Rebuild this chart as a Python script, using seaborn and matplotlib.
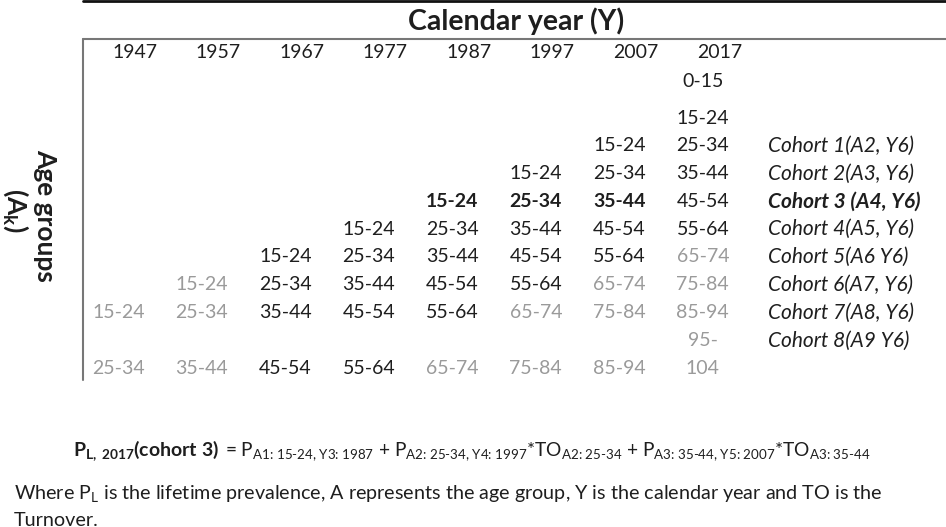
"""
Cohort / calendar-year table of age groups, drawn on a blank seaborn heatmap grid
"""

import matplotlib.pyplot as plt
from matplotlib.colors import ListedColormap
from matplotlib.lines import Line2D
import numpy as np
import seaborn as sns

years = [1947, 1957, 1967, 1977, 1987, 1997, 2007, 2017]

# age group shown in each cell (rows top to bottom, one column per calendar year)
cells = [
    ['', '', '', '', '', '', '', '0-15'],
    ['', '', '', '', '', '', '', '15-24'],
    ['', '', '', '', '', '', '15-24', '25-34'],
    ['', '', '', '', '', '15-24', '25-34', '35-44'],
    ['', '', '', '', '15-24', '25-34', '35-44', '45-54'],
    ['', '', '', '15-24', '25-34', '35-44', '45-54', '55-64'],
    ['', '', '15-24', '25-34', '35-44', '45-54', '55-64', '65-74'],
    ['', '15-24', '25-34', '35-44', '45-54', '55-64', '65-74', '75-84'],
    ['15-24', '25-34', '35-44', '45-54', '55-64', '65-74', '75-84', '85-94'],
    ['', '', '', '', '', '', '', '95-'],
    ['25-34', '35-44', '45-54', '55-64', '65-74', '75-84', '85-94', '104'],
]

# k = normal, b = bold (cohort 3), g = grey
tones = [
    ['', '', '', '', '', '', '', 'k'],
    ['', '', '', '', '', '', '', 'k'],
    ['', '', '', '', '', '', 'k', 'k'],
    ['', '', '', '', '', 'k', 'k', 'k'],
    ['', '', '', '', 'b', 'b', 'b', 'k'],
    ['', '', '', 'k', 'k', 'k', 'k', 'k'],
    ['', '', 'k', 'k', 'k', 'k', 'k', 'g'],
    ['', 'g', 'k', 'k', 'k', 'k', 'g', 'g'],
    ['g', 'g', 'k', 'k', 'k', 'g', 'g', 'g'],
    ['', '', '', '', '', '', '', 'g'],
    ['g', 'g', 'k', 'k', 'g', 'g', 'g', 'g'],
]

cohort_rows = [2, 3, 4, 5, 6, 7, 8, 9]
cohort_labels = ['Cohort 1(A2, Y6)', 'Cohort 2(A3, Y6)', 'Cohort 3 (A4, Y6)',
                 'Cohort 4(A5, Y6)', 'Cohort 5(A6 Y6)', 'Cohort 6(A7, Y6)',
                 'Cohort 7(A8, Y6)', 'Cohort 8(A9 Y6)']
cohort_bold = 'Cohort 3 (A4, Y6)'

sns.set_theme(style='white')
plt.rcParams['font.family'] = ['Lato', 'DejaVu Sans']
plt.rcParams['mathtext.fontset'] = 'custom'
plt.rcParams['mathtext.rm'] = 'Lato'
plt.rcParams['mathtext.bf'] = 'Lato:bold'
plt.rcParams['mathtext.it'] = 'Lato:italic'

W, H = 946, 527
fig = plt.figure(figsize=(W / 100, H / 100), dpi=100)
fig.patch.set_facecolor('white')

# table grid area in pixels
left, right, top, bottom = 76.5, 744.5, 76.3, 382.1
ax = fig.add_axes([left / W, 1 - bottom / H, (right - left) / W, (bottom - top) / H])
sns.heatmap(np.zeros((len(cells), len(years))), cmap=ListedColormap(['white']),
            cbar=False, xticklabels=False, yticklabels=False, ax=ax)

DARK, GREY = '#1e1e1e', '#9a9a9a'
FS = 14

for j, yr in enumerate(years):
    ax.text(j + 0.7, -0.87, str(yr), ha='center', va='center', fontsize=FS, color=DARK)

for i, row in enumerate(cells):
    for j, lab in enumerate(row):
        if not lab:
            continue
        t = tones[i][j]
        ax.text(j + 0.5, i + 0.5 - (0.33 if i == 0 else 0), lab, ha='center', va='center',
                fontsize=FS, color=GREY if t == 'g' else DARK,
                fontweight='bold' if t == 'b' else 'normal')

for r, lab in zip(cohort_rows, cohort_labels):
    ax.text(8.28, r + 0.5, lab, ha='left', va='center', fontsize=15, style='italic',
            color=DARK, fontweight='bold' if lab == cohort_bold else 'normal')

# frame lines
fig.add_artist(Line2D([83 / W, 1], [1 - 1 / H, 1 - 1 / H], color='#111111', lw=2))
fig.add_artist(Line2D([83 / W, 1], [1 - 38.5 / H, 1 - 38.5 / H], color='#777777', lw=1.5))
fig.add_artist(Line2D([83 / W, 83 / W], [1 - 38.5 / H, 1 - 380 / H], color='#777777', lw=1.5))

fig.text(516 / W, 1 - 21 / H, 'Calendar year (Y)', ha='center', va='center',
         fontsize=20.5, fontweight='bold', color=DARK)
fig.text(45 / W, 1 - 215 / H, 'Age groups', rotation=-90, ha='center', va='center',
         fontsize=19, fontweight='bold', color=DARK)
fig.text(16 / W, 1 - 210 / H, r'$\mathbf{(A_k)}$', rotation=-90, ha='center', va='center',
         fontsize=19, color=DARK)

# formula line: bold left part, regular right part, sharing one baseline
base = 1 - 456 / H
fig.text(73 / W, base, r'$\mathbf{P_{L,\ 2017}(cohort\ 3)}$', ha='left', va='baseline',
         fontsize=14, color=DARK)
formula = (r'= P$_{\text{A1: 15-24, Y3: 1987}}$'
           r' + P$_{\text{A2: 25-34, Y4: 1997}}$*TO$_{\text{A2: 25-34}}$'
           r' + P$_{\text{A3: 35-44, Y5: 2007}}$*TO$_{\text{A3: 35-44}}$')
fig.text(225 / W, base, formula, ha='left', va='baseline', fontsize=13.8, color=DARK)

fig.text(14 / W, 1 - 493 / H,
         'Where P$_\\mathrm{L}$ is the lifetime prevalence, A represents the age group, '
         'Y is the calendar year and TO is the',
         ha='left', va='center', fontsize=14.2, color=DARK)
fig.text(14 / W, 1 - 520 / H, 'Turnover.', ha='left', va='center', fontsize=14.2, color=DARK)

fig.savefig('out.png', dpi=100, facecolor='white')
